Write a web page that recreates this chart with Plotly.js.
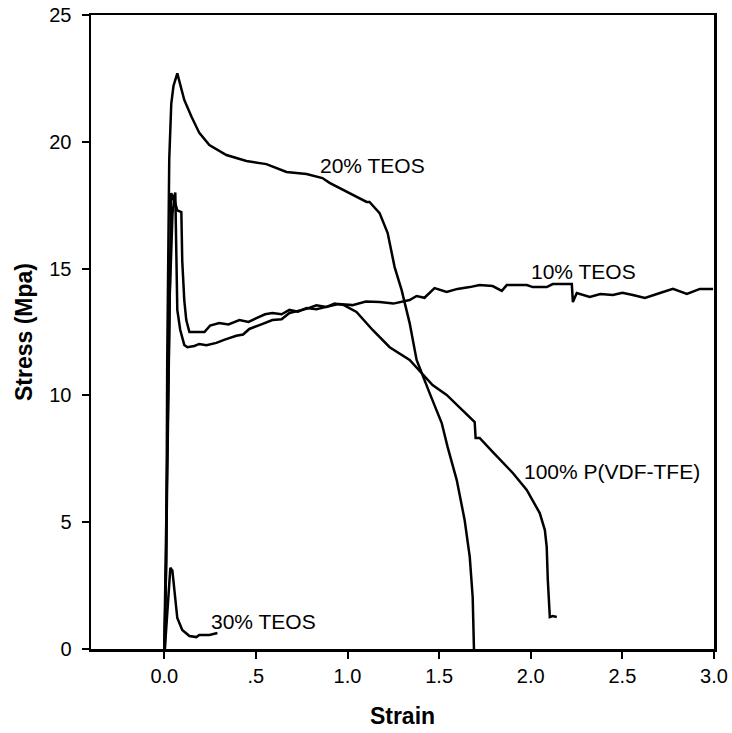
<!DOCTYPE html>
<html>
<head>
<meta charset="utf-8">
<script src="https://cdn.plot.ly/plotly-3.0.1.min.js"></script>
<style>html,body{margin:0;padding:0;background:#fff;}#chart{width:732px;height:733px;}</style>
</head>
<body>
<div id="chart"></div>
<script>
// 20% TEOS
const x20 = [0, 0.011, 0.016, 0.027, 0.038, 0.05, 0.071, 0.09, 0.109, 0.148, 0.191, 0.246, 0.339, 0.448, 0.557, 0.667, 0.776, 0.863, 0.902, 1.104, 1.12, 1.175, 1.219, 1.257, 1.295, 1.339, 1.377, 1.448, 1.514, 1.546, 1.596, 1.639, 1.667, 1.683, 1.689, 1.69];
const y20 = [0, 3.5, 11.4, 19.3, 21.5, 22.2, 22.7, 22.2, 21.65, 21.0, 20.35, 19.87, 19.48, 19.24, 19.12, 18.81, 18.73, 18.57, 18.38, 17.63, 17.63, 17.19, 16.4, 15.06, 14.16, 12.85, 11.4, 10.09, 8.91, 7.97, 6.66, 5.09, 3.63, 2.05, 0.08, 0];
// 10% TEOS
const x10 = [0.003, 0.015, 0.03, 0.045, 0.055, 0.071, 0.093, 0.098, 0.109, 0.12, 0.137, 0.219, 0.25, 0.30, 0.35, 0.41, 0.46, 0.503, 0.55, 0.59, 0.64, 0.683, 0.73, 0.776, 0.83, 0.885, 0.95, 1.027, 1.1, 1.175, 1.25, 1.339, 1.377, 1.42, 1.475, 1.541, 1.6, 1.667, 1.721, 1.792, 1.842, 1.869, 1.978, 2.011, 2.087, 2.12, 2.224, 2.23, 2.251, 2.322, 2.38, 2.448, 2.5, 2.557, 2.623, 2.705, 2.776, 2.852, 2.923, 2.995];
const y10 = [0, 7, 14, 17.2, 17.7, 17.3, 17.23, 15.3, 13.76, 12.97, 12.5, 12.5, 12.75, 12.85, 12.8, 12.97, 12.9, 13.05, 13.2, 13.25, 13.2, 13.37, 13.3, 13.45, 13.4, 13.49, 13.6, 13.56, 13.7, 13.68, 13.62, 13.76, 13.92, 13.85, 14.23, 14.08, 14.2, 14.27, 14.35, 14.31, 14.12, 14.35, 14.35, 14.27, 14.27, 14.39, 14.39, 13.68, 14.04, 13.88, 14.0, 13.96, 14.05, 13.96, 13.84, 14.04, 14.2, 14.0, 14.2, 14.2];
// 100% P(VDF-TFE)
const x100 = [0, 0.01, 0.02, 0.03, 0.038, 0.049, 0.06, 0.071, 0.087, 0.109, 0.126, 0.164, 0.191, 0.23, 0.284, 0.33, 0.393, 0.43, 0.464, 0.53, 0.59, 0.64, 0.683, 0.776, 0.83, 0.885, 0.93, 0.98, 1.049, 1.137, 1.23, 1.339, 1.415, 1.464, 1.541, 1.667, 1.694, 1.699, 1.721, 1.792, 1.902, 1.978, 2.049, 2.077, 2.087, 2.093, 2.104, 2.12, 2.142];
const y100 = [0, 5, 11, 16, 17.98, 17.7, 18.0, 13.37, 12.58, 11.99, 11.9, 11.95, 12.03, 11.98, 12.07, 12.2, 12.35, 12.4, 12.62, 12.8, 12.97, 13.0, 13.25, 13.41, 13.55, 13.49, 13.62, 13.56, 13.29, 12.58, 11.9, 11.4, 10.8, 10.41, 10.02, 9.15, 8.95, 8.32, 8.32, 7.77, 6.94, 6.27, 5.36, 4.69, 4.02, 2.72, 1.26, 1.3, 1.26];
// 30% TEOS
const x30 = [0.003, 0.02, 0.033, 0.044, 0.055, 0.071, 0.098, 0.137, 0.175, 0.191, 0.246, 0.29];
const y30 = [0, 2.0, 3.2, 3.1, 2.2, 1.22, 0.75, 0.51, 0.47, 0.55, 0.55, 0.63];

const labels = ["20% TEOS", "10% TEOS", "100% P(VDF-TFE)", "30% TEOS"];
const labelX = [0.84, 1.99, 1.95, 0.245];
const labelY = [19.08, 14.87, 6.98, 1.1];

const xTickVals = [0, 0.5, 1.0, 1.5, 2.0, 2.5, 3.0];
const xTickText = ["0.0", ".5", "1.0", "1.5", "2.0", "2.5", "3.0"];
const yTickVals = [0, 5, 10, 15, 20, 25];

const lineStyle = {color: "#000", width: 2.5};
const traces = [
  {x: x20, y: y20, mode: "lines", line: lineStyle, name: labels[0]},
  {x: x10, y: y10, mode: "lines", line: lineStyle, name: labels[1]},
  {x: x100, y: y100, mode: "lines", line: lineStyle, name: labels[2]},
  {x: x30, y: y30, mode: "lines", line: lineStyle, name: labels[3]}
];

const font = {family: "Liberation Sans, Arial, sans-serif", color: "#000"};
const annotations = labels.map((t, i) => ({
  x: labelX[i], y: labelY[i], text: t, showarrow: false,
  xanchor: "left", yanchor: "middle",
  font: Object.assign({}, font, {size: 21})
}));

const layout = {
  width: 732, height: 733,
  margin: {l: 91, r: 18, t: 15, b: 84},
  paper_bgcolor: "#fff", plot_bgcolor: "#fff",
  showlegend: false,
  font: font,
  xaxis: {
    range: [-0.4, 3.0], showgrid: false, zeroline: false,
    showline: true, linecolor: "#000", linewidth: 2.5, mirror: true,
    ticks: "outside", ticklen: 7, tickwidth: 2, tickcolor: "#000",
    tickvals: xTickVals, ticktext: xTickText,
    tickfont: Object.assign({}, font, {size: 20}),
    title: {text: "<b>Strain</b>", font: Object.assign({}, font, {size: 23}), standoff: 23}
  },
  yaxis: {
    range: [0, 25], showgrid: false, zeroline: false,
    showline: true, linecolor: "#000", linewidth: 2.5, mirror: true,
    ticks: "outside", ticklen: 7, tickwidth: 2, tickcolor: "#000",
    tickvals: yTickVals,
    tickfont: Object.assign({}, font, {size: 20}),
    ticklabelstandoff: 6,
    title: {text: "<b>Stress (Mpa)</b>", font: Object.assign({}, font, {size: 23}), standoff: 10}
  },
  annotations: annotations
};

Plotly.newPlot("chart", traces, layout, {displayModeBar: false, staticPlot: true});
</script>
</body>
</html>
